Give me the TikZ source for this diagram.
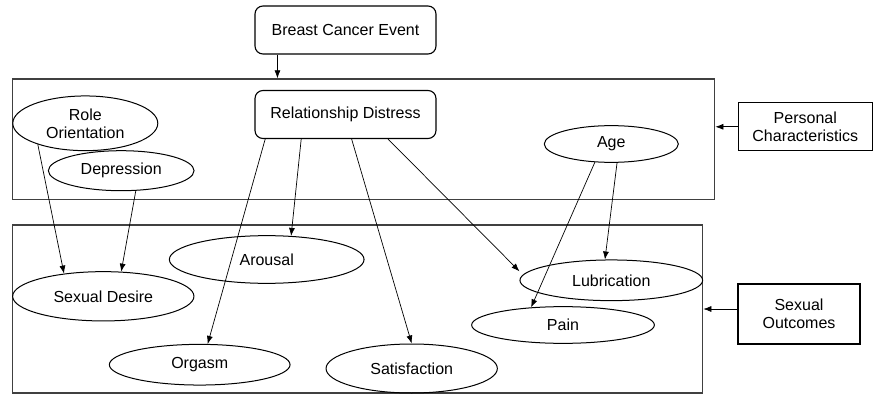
\documentclass[tikz,border=0pt]{standalone}
\usepackage{fontspec}
\setmainfont{Liberation Sans}
\usetikzlibrary{shapes.geometric,arrows.meta,calc}
\begin{document}
\begin{tikzpicture}[x=1pt,y=-1pt,
  every node/.style={font=\fontsize{16}{18}\selectfont, inner sep=0pt, align=center},
  oval/.style={draw, ellipse, line width=1pt},
  rbox/.style={draw, rounded corners=8pt, line width=1.1pt, minimum width=181pt, minimum height=48pt},
  sbox/.style={draw, line width=1.1pt},
  frame/.style={draw=black!75, line width=1.3pt},
  arr/.style={-{Latex[length=8pt,width=6pt]}, line width=0.7pt}]
\useasboundingbox (0,0) rectangle (874,395);
% frames
\node[frame, minimum width=702pt, minimum height=120.5pt] (topbox) at (363.7,139.2) {};
\node[frame, minimum width=690pt, minimum height=168pt] (botbox) at (357.7,309) {};
% boxes
\node[rbox] (bce) at (345.5,30) {Breast Cancer Event};
\node[rbox] (rd) at (345.5,114.5) {Relationship Distress};
\node[sbox, minimum width=134pt, minimum height=48pt] (pc) at (805.3,126.8) {Personal\\Characteristics};
\node[sbox, minimum width=122pt, minimum height=60pt] (so) at (799,314) {Sexual\\Outcomes};
% ellipses
\node[oval, minimum width=145pt, minimum height=54.7pt] (ro) at (85.3,123.3) {Role\\Orientation};
\node[oval, minimum width=145.7pt, minimum height=40pt] (dep) at (121.2,170.7) {Depression};
\node[oval, minimum width=134pt, minimum height=36.7pt] (age) at (611.3,144) {Age};
\node[oval, minimum width=181.3pt, minimum height=49.3pt] (sd) at (103.3,296.3) {Sexual Desire};
\node[oval, minimum width=194.7pt, minimum height=47.7pt] (ar) at (266.7,259.5) {Arousal};
\node[oval, minimum width=180.7pt, minimum height=40.7pt] (org) at (199.7,364.7) {Orgasm};
\node[oval, minimum width=171.3pt, minimum height=49pt] (sat) at (411.7,368.5) {Satisfaction};
\node[oval, minimum width=182.7pt, minimum height=40.7pt] (lub) at (611.3,280.3) {Lubrication};
\node[oval, minimum width=182.7pt, minimum height=36.7pt] (pain) at (563,325) {Pain};
% connectors
\coordinate (bcx) at ($(bce.south west)+(23,0)$);
\draw[arr] (bcx) -- (bcx |- topbox.north);
\draw[arr] (pc.west) -- (pc.west -| topbox.east);
\coordinate (sow) at ($(so.west)+(0,-5)$);
\draw[arr] (sow) -- (sow -| botbox.east);
\draw[arr] (ro.204) -- (sd.150);
\draw[arr] (dep.306) -- (sd.54);
\draw[arr] (rd.197) -- (org.69);
\draw[arr] (rd.209) -- (ar.44);
\draw[arr] (rd.284) -- (sat.north);
\draw[arr] (rd.330) -- ($(lub.west)+(0,-9)$);
\draw[arr] (age.228) -- (pain.151);
\draw[arr] (age.287) -- (lub.107);
\end{tikzpicture}
\end{document}
